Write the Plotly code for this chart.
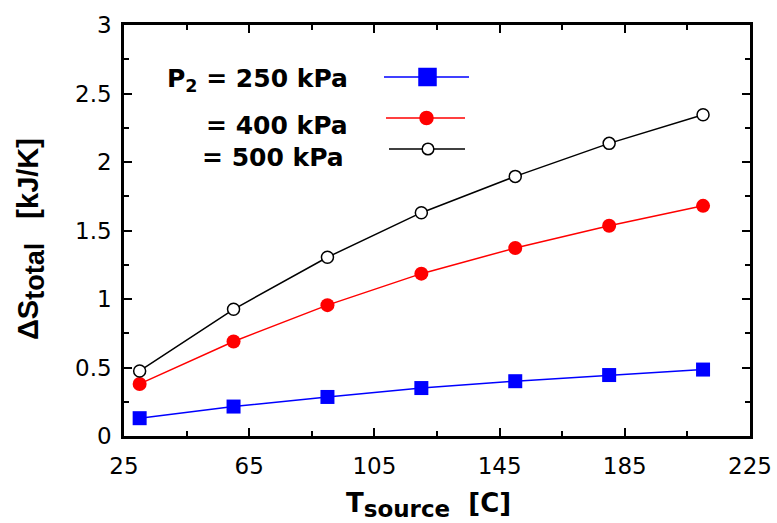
import plotly.graph_objects as go

t_source = [30, 60, 90, 120, 150, 180, 210]
ds_250 = [0.13, 0.215, 0.285, 0.35, 0.40, 0.445, 0.485]
ds_400 = [0.38, 0.69, 0.955, 1.185, 1.372, 1.535, 1.68]
ds_500 = [0.475, 0.925, 1.305, 1.63, 1.895, 2.136, 2.345]
legend_labels = ["P<sub>2</sub> = 250 kPa", "= 400 kPa", "= 500 kPa"]

W, H = 777, 523
L, R, T, B = 124, 27, 25, 87
pw, ph = W - L - R, H - T - B

def px(x):
    return (x - L) / pw

def py(y):
    return (H - B - y) / ph

fig = go.Figure()
fig.add_trace(go.Scatter(x=t_source, y=ds_250, mode="lines+markers",
                         line=dict(color="#0000ff", width=1.5),
                         marker=dict(symbol="square", size=14, color="#0000ff"),
                         showlegend=False))
fig.add_trace(go.Scatter(x=t_source, y=ds_400, mode="lines+markers",
                         line=dict(color="#ff0000", width=1.5),
                         marker=dict(symbol="circle", size=14, color="#ff0000"),
                         showlegend=False))
fig.add_trace(go.Scatter(x=t_source, y=ds_500, mode="lines+markers",
                         line=dict(color="#000000", width=1.5),
                         marker=dict(symbol="circle", size=12, color="white",
                                     line=dict(color="black", width=1.5)),
                         showlegend=False))

tick_fam = "DejaVu Sans, sans-serif"
bold_fam = "DejaVu Sans, sans-serif"
arial = "Liberation Sans, Arial, sans-serif"

# legend text
text_pos = [(165, 80), (204, 125), (200, 157)]
for lab, (x, y) in zip(legend_labels, text_pos):
    fig.add_annotation(text="<b>" + lab + "</b>", x=px(x), y=py(y), xref="paper", yref="paper",
                       xanchor="left", yanchor="middle", showarrow=False,
                       font=dict(family=bold_fam, size=25, color="black"))

# axis titles
fig.add_annotation(text="<b>T<sub><span style='font-size:23px'>source</span></sub>  [C]</b>",
                   x=px(428), y=py(486), xref="paper", yref="paper",
                   xanchor="center", yanchor="top", showarrow=False,
                   font=dict(family=bold_fam, size=26, color="black"))
fig.add_annotation(text="<b>ΔS<sub><span style='font-size:27px'>total</span></sub>   [kJ/K]</b>",
                   x=px(31), y=py(239), xref="paper", yref="paper", textangle=-90,
                   xanchor="center", yanchor="middle", showarrow=False,
                   font=dict(family=arial, size=29, color="black"))

shapes = []
# legend keys
keys = [
    (384, 469, 77, "#0000ff", "square", 8.5, "#0000ff", "#0000ff"),
    (386, 465, 118, "#ff0000", "circle", 6.5, "#ff0000", "#ff0000"),
    (389, 465, 149, "#000000", "circle", 5.8, "white", "black"),
]
for x0, x1, y, col, sym, r, fill, edge in keys:
    shapes.append(dict(type="line", xref="paper", yref="paper", x0=px(x0), x1=px(x1),
                       y0=py(y), y1=py(y), line=dict(color=col, width=1.5)))
    cx = (x0 + x1) / 2 + 1
    shapes.append(dict(type="rect" if sym == "square" else "circle", xref="paper", yref="paper",
                       x0=px(cx - r), x1=px(cx + r), y0=py(y + r), y1=py(y - r),
                       fillcolor=fill, line=dict(color=edge, width=1.5)))
fig.update_layout(shapes=shapes)

axis_common = dict(showline=True, linecolor="black", linewidth=2.5, mirror="ticks",
                   ticks="inside", ticklen=8, tickwidth=2, tickcolor="black",
                   showgrid=False, zeroline=False,
                   tickfont=dict(family=tick_fam, size=23, color="black"))

fig.update_xaxes(range=[25, 225], tick0=25, dtick=40,
                 minor=dict(ticks="inside", dtick=20, tick0=25, ticklen=5, tickwidth=2, tickcolor="black"),
                 ticklabelstandoff=8,
                 **axis_common)
fig.update_yaxes(range=[0, 3], tick0=0, dtick=0.5,
                 minor=dict(ticks="inside", dtick=0.25, ticklen=5, tickwidth=2, tickcolor="black"),
                 ticklabelstandoff=5,
                 **axis_common)

fig.update_layout(width=W, height=H, margin=dict(l=L, r=R, t=T, b=B, autoexpand=False),
                  plot_bgcolor="white", paper_bgcolor="white",
                  font=dict(family=tick_fam))

fig.write_html("out.html", config={"displayModeBar": False},
               post_script="document.body.style.margin='0px';")
